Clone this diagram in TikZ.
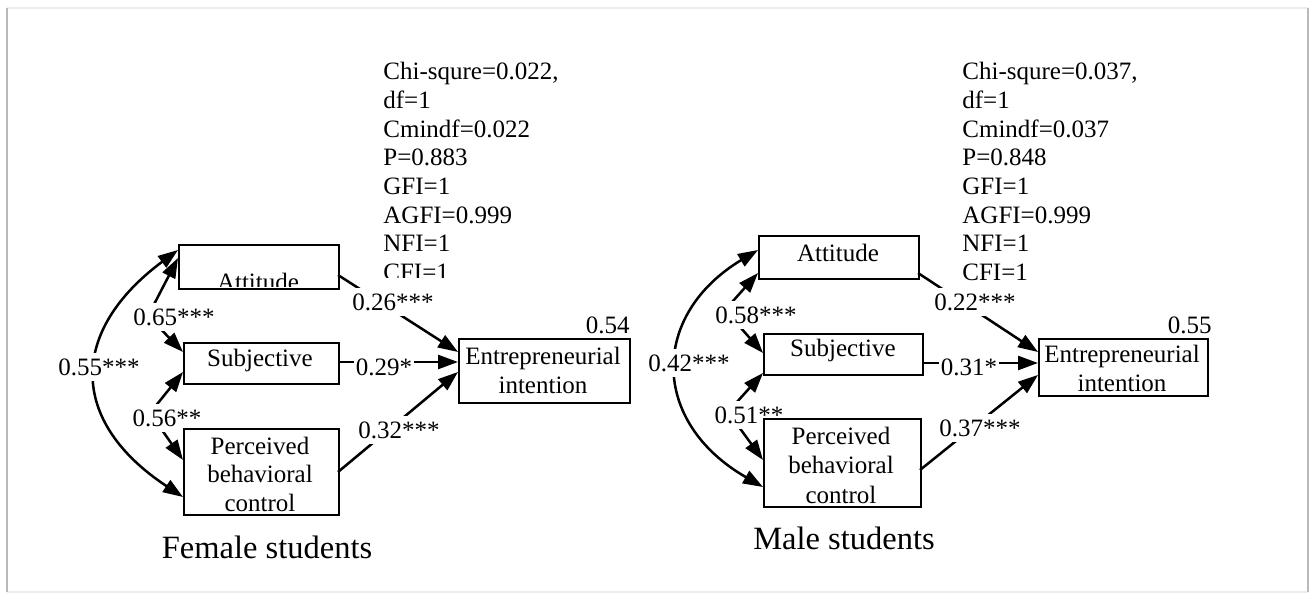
\documentclass[tikz,border=0pt]{standalone}
\usepackage{fontspec}
\setmainfont{Liberation Serif}
\usetikzlibrary{arrows.meta}
\newcommand\fs{\fontsize{12.5pt}{14.35pt}\selectfont}
\newcommand\fcap{\fontsize{16.25pt}{19pt}\selectfont}
\tikzset{
  box/.style={draw, line width=1pt, inner sep=0pt, anchor=north west},
  txt/.style={inner sep=0pt, anchor=base, font=\fs},
  lab/.style={fill=white, inner xsep=1pt, inner ysep=3pt, font=\fs},
  stats/.style={inner sep=0pt, anchor=north west, align=left, font=\fs},
  capt/.style={inner sep=0pt, font=\fcap},
  tip/.style={line width=1.25pt, -{Triangle[length=10pt,width=7pt]}},
  dtip/.style={line width=1.25pt, {Triangle[length=10pt,width=7pt]}-{Triangle[length=10pt,width=7pt]}},
}
\begin{document}
\begin{tikzpicture}[x=0.5pt,y=-0.5pt]
\useasboundingbox (0,0) rectangle (1311,597);
% frame
\draw[gray!15, line width=1pt] (7,8) -- (1308,8);
\draw[gray!15, line width=1pt] (7,592) -- (1308,592);
\draw[gray!55, line width=1.1pt] (7,8) -- (7,592);
\draw[gray!55, line width=1.1pt] (1308,8) -- (1308,592);

% ---------- coordinates: female ----------
\coordinate (fo1) at (178,250);
\coordinate (fo2) at (183,497);
\coordinate (fi1) at (178,258);
\coordinate (fiA) at (148,316);
\coordinate (fi2) at (183,352);
\coordinate (fj1) at (183,372);
\coordinate (fjA) at (150,413);
\coordinate (fj2) at (183,460);
\coordinate (fa0) at (338,275);
\coordinate (fs0) at (338,362);
\coordinate (fp0) at (338,472);
\coordinate (fe1) at (458,352);
\coordinate (fe2) at (458,362);
\coordinate (fe3) at (458,372);
% ---------- coordinates: male ----------
\coordinate (mo1) at (758,250);
\coordinate (mo2) at (763,487);
\coordinate (mi1) at (758,273);
\coordinate (miA) at (725,310);
\coordinate (mi2) at (763,353);
\coordinate (mj1) at (763,373);
\coordinate (mjA) at (728,412);
\coordinate (mj2) at (763,460);
\coordinate (ma0) at (918,273);
\coordinate (ms0) at (922,363);
\coordinate (mp0) at (920,470);
\coordinate (me1) at (1038,352);
\coordinate (me2) at (1038,363);
\coordinate (me3) at (1038,375);

% ---------- connectors: female ----------
\draw[dtip] (fo2) .. controls (68,421) and (69,331) .. (fo1);
\draw[dtip] (fi1) -- (fiA) -- (fi2);
\draw[dtip] (fj1) -- (fjA) -- (fj2);
\draw[tip] (fa0) -- (fe1);
\draw[tip] (fs0) -- (fe2);
\draw[tip] (fp0) -- (fe3);
% ---------- connectors: male ----------
\draw[dtip] (mo2) .. controls (650,422) and (650,315) .. (mo1);
\draw[dtip] (mi1) -- (miA) -- (mi2);
\draw[dtip] (mj1) -- (mjA) -- (mj2);
\draw[tip] (ma0) -- (me1);
\draw[tip] (ms0) -- (me2);
\draw[tip] (mp0) -- (me3);

% ---------- fit statistics ----------
\begin{scope}
\clip (370,40) rectangle (620,278);
\node[stats] (fstat) at (383,62) {Chi-squre=0.022,\\df=1\\Cmindf=0.022\\P=0.883\\GFI=1\\AGFI=0.999\\NFI=1\\CFI=1};
\end{scope}
\node[stats] (mstat) at (962,62) {Chi-squre=0.037,\\df=1\\Cmindf=0.037\\P=0.848\\GFI=1\\AGFI=0.999\\NFI=1\\CFI=1};

% ---------- labels: female ----------
\node[lab] (fl1) at (99,367) {0.55***};
\node[lab] (fl2) at (174,317) {0.65***};
\node[lab] (fl3) at (167,418) {0.56**};
\node[lab] (fl4) at (393,302) {0.26***};
\node[lab] (fl5) at (384,367) {0.29*};
\node[lab] (fl6) at (399,430) {0.32***};
\node[txt, anchor=east] (fr2) at (630,325) {0.54};
% ---------- labels: male ----------
\node[lab] (ml1) at (689,363) {0.42***};
\node[lab] (ml2) at (756,315) {0.58***};
\node[lab] (ml3) at (749,415) {0.51**};
\node[lab] (ml4) at (975,302) {0.22***};
\node[lab] (ml5) at (969,367) {0.31*};
\node[lab] (ml6) at (980,428) {0.37***};
\node[txt, anchor=east] (mr2) at (1212,325) {0.55};

% ---------- boxes: female ----------
\node[box, minimum width=80pt, minimum height=22pt] (fA) at (178,244) {};
\node[box, minimum width=77.5pt, minimum height=20.5pt] (fS) at (183,342) {};
\node[box, minimum width=77.5pt, minimum height=43pt] (fP) at (183,428) {};
\node[box, minimum width=85.5pt, minimum height=32pt] (fE) at (458,338) {};
\begin{scope}
\clip (178,244) rectangle (338,287);
\node[txt] (fAt) at (258,291) {Attitude};
\end{scope}
\node[txt] (fSt) at (260,367) {Subjective};
\node[txt] (fPt1) at (260,455) {Perceived};
\node[txt] (fPt2) at (260,483) {behavioral};
\node[txt] (fPt3) at (260,512) {control};
\node[txt] (fEt1) at (543,365) {Entrepreneurial};
\node[txt] (fEt2) at (543,394) {intention};
% ---------- boxes: male ----------
\node[box, minimum width=80pt, minimum height=21.5pt] (mA) at (758,235) {};
\node[box, minimum width=79.5pt, minimum height=20.5pt] (mS) at (763,333) {};
\node[box, minimum width=78.5pt, minimum height=44pt] (mP) at (763,418) {};
\node[box, minimum width=84.5pt, minimum height=28.5pt] (mE) at (1038,338) {};
\node[txt] (mAt) at (838,262) {Attitude};
\node[txt] (mSt) at (843,357) {Subjective};
\node[txt] (mPt1) at (841,445) {Perceived};
\node[txt] (mPt2) at (841,474) {behavioral};
\node[txt] (mPt3) at (841,504) {control};
\node[txt] (mEt1) at (1122,363) {Entrepreneurial};
\node[txt] (mEt2) at (1122,392) {intention};

% ---------- captions ----------
\node[capt] (fcap) at (267,547) {Female students};
\node[capt] (mcap) at (844,538) {Male students};
\end{tikzpicture}
\end{document}
